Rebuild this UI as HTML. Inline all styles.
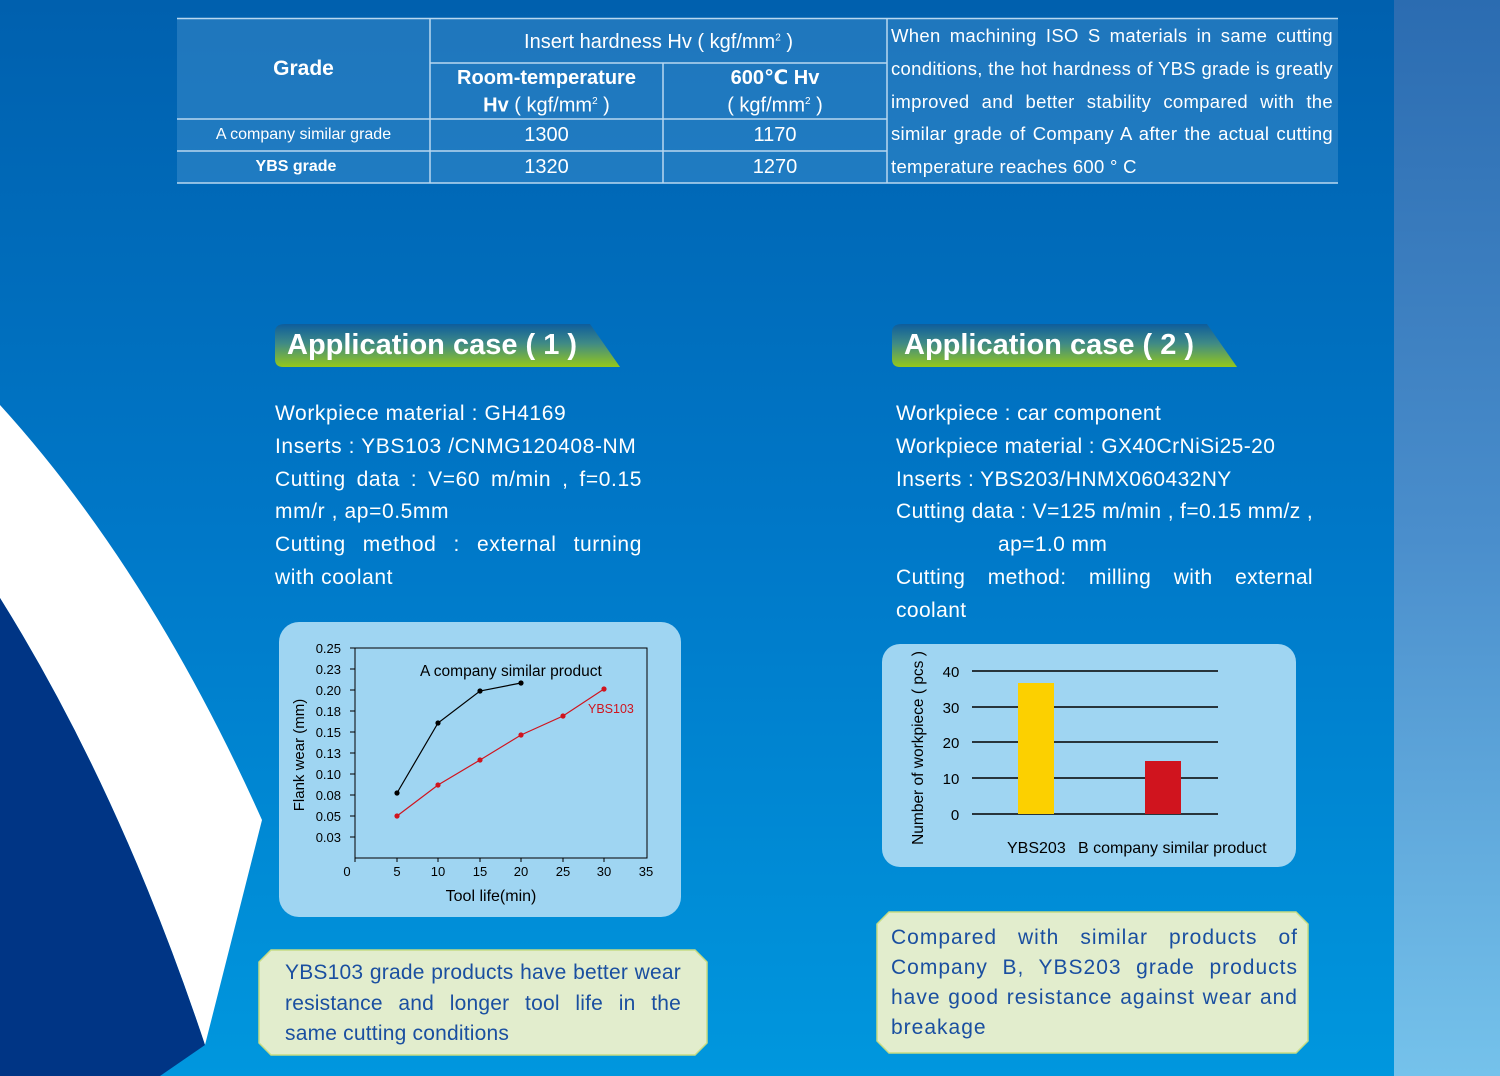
<!DOCTYPE html>
<html><head><meta charset="utf-8"><style>
body{margin:0;width:1500px;height:1076px;overflow:hidden;position:relative;font-family:"Liberation Sans","DejaVu Sans",sans-serif;background:linear-gradient(#0060ae,#0078c8 50%,#0097de);}
.a{position:absolute;white-space:nowrap}
.w{color:#fff}
.j{text-align:justify;text-align-last:justify;white-space:normal}
</style></head><body>
<div class="a" style="left:1394px;top:0;width:106px;height:1076px;background:linear-gradient(#2b6cb1,#4a8ecc 50%,#75c2eb)"></div>
<svg class="a" style="left:0;top:0" width="300" height="1076">
<path d="M0,405 Q150,570 262,820 L205,1045 Q120,790 0,598 Z" fill="#fff"/>
<path d="M0,598 Q120,790 205,1045 L160,1076 L0,1076 Z" fill="#003585"/>
</svg>
<div class="a" style="left:177px;top:18px;width:1161px;height:165px;background:rgba(90,160,215,0.35)"></div>
<svg class="a" style="left:0;top:0" width="1500" height="200">
<g stroke="#b8d8f0" stroke-width="1.5" fill="none">
<line x1="177" y1="18.5" x2="1338" y2="18.5"/><line x1="177" y1="183" x2="1338" y2="183"/>
<line x1="430" y1="63" x2="887" y2="63"/>
<line x1="177" y1="119" x2="887" y2="119"/><line x1="177" y1="151" x2="887" y2="151"/>
<line x1="430" y1="18" x2="430" y2="183"/><line x1="663" y1="63" x2="663" y2="183"/><line x1="887" y1="18" x2="887" y2="183"/>
</g></svg>
<div class="a w" style="left:177px;top:57px;width:253px;text-align:center;font-size:21px;font-weight:bold">Grade</div>
<div class="a w" style="left:430px;top:31px;width:457px;text-align:center;font-size:20px">Insert hardness Hv ( kgf/mm<sup style="font-size:10px">2</sup> )</div>
<div class="a w" style="left:430px;top:66px;width:233px;text-align:center;font-size:20px;line-height:24px"><b>Room-temperature</b><br><b>Hv</b> ( kgf/mm<sup style="font-size:10px">2</sup> )</div>
<div class="a w" style="left:663px;top:66px;width:224px;text-align:center;font-size:20px;line-height:24px"><b>600℃ Hv</b><br>( kgf/mm<sup style="font-size:10px">2</sup> )</div>
<div class="a w" style="left:177px;top:126px;width:253px;text-align:center;font-size:16px">A company similar grade</div>
<div class="a w" style="left:177px;top:158px;width:238px;text-align:center;font-size:16px;font-weight:bold">YBS grade</div>
<div class="a w" style="left:430px;top:124px;width:233px;text-align:center;font-size:20px">1300</div>
<div class="a w" style="left:663px;top:124px;width:224px;text-align:center;font-size:20px">1170</div>
<div class="a w" style="left:430px;top:156px;width:233px;text-align:center;font-size:20px">1320</div>
<div class="a w" style="left:663px;top:156px;width:224px;text-align:center;font-size:20px">1270</div>
<div class="a w" style="left:891px;top:20px;width:442px;font-size:18.5px;line-height:32.8px;letter-spacing:0.3px">
<div class="j">When machining ISO S materials in same cutting</div>
<div class="j">conditions, the hot hardness of YBS grade is greatly</div>
<div class="j">improved and better stability compared with the</div>
<div class="j">similar grade of Company A after the actual cutting</div>
<div>temperature reaches 600 ° C</div></div>
<svg class="a" style="left:0;top:0" width="1500" height="400">
<defs><linearGradient id="g" x1="0" y1="0" x2="0" y2="1"><stop offset="0" stop-color="#0e5d9c"/><stop offset="0.45" stop-color="#3f8a86"/><stop offset="1" stop-color="#95c81a"/></linearGradient></defs>
<path d="M285,324 L590,324 L620,367 L283,367 Q275,367 275,359 L275,332 Q275,324 285,324Z" fill="url(#g)"/>
<path d="M902,324 L1207,324 L1237,367 L900,367 Q892,367 892,359 L892,332 Q892,324 902,324Z" fill="url(#g)"/>
</svg>
<div class="a w" style="left:287px;top:329px;font-size:29px;font-weight:bold">Application case ( 1 )</div>
<div class="a w" style="left:904px;top:329px;font-size:29px;font-weight:bold">Application case ( 2 )</div>
<div class="a w" style="left:275px;top:398px;width:367px;font-size:21px;line-height:32.8px;letter-spacing:0.6px">
<div>Workpiece material : GH4169</div>
<div>Inserts : YBS103 /CNMG120408-NM</div>
<div class="j">Cutting data : V=60 m/min , f=0.15</div>
<div>mm/r , ap=0.5mm</div>
<div class="j">Cutting method : external turning</div>
<div>with coolant</div></div>
<div class="a w" style="left:896px;top:398px;width:417px;font-size:21px;line-height:32.8px;letter-spacing:0.4px">
<div>Workpiece : car component</div>
<div>Workpiece material : GX40CrNiSi25-20</div>
<div>Inserts : YBS203/HNMX060432NY</div>
<div>Cutting data : V=125 m/min , f=0.15 mm/z ,</div>
<div style="padding-left:102px">ap=1.0 mm</div>
<div class="j">Cutting method: milling with external</div>
<div>coolant</div></div>
<div class="a" style="left:279px;top:622px;width:402px;height:295px;background:#9fd5f2;border-radius:20px"></div>
<svg class="a" style="left:0;top:0" width="1500" height="1076" font-family="Liberation Sans, sans-serif">
<rect x="355" y="648" width="292" height="210" fill="none" stroke="#000" stroke-width="1"/>
<g font-size="13" fill="#000" text-anchor="end">
<text x="341" y="653">0.25</text><text x="341" y="674">0.23</text><text x="341" y="695">0.20</text><text x="341" y="716">0.18</text><text x="341" y="737">0.15</text><text x="341" y="758">0.13</text><text x="341" y="779">0.10</text><text x="341" y="800">0.08</text><text x="341" y="821">0.05</text><text x="341" y="842">0.03</text></g>
<g stroke="#000"><line x1="350" y1="648" x2="355" y2="648"/><line x1="350" y1="669" x2="355" y2="669"/><line x1="350" y1="690" x2="355" y2="690"/><line x1="350" y1="711" x2="355" y2="711"/><line x1="350" y1="732" x2="355" y2="732"/><line x1="350" y1="753" x2="355" y2="753"/><line x1="350" y1="774" x2="355" y2="774"/><line x1="350" y1="795" x2="355" y2="795"/><line x1="350" y1="816" x2="355" y2="816"/><line x1="350" y1="837" x2="355" y2="837"/>
<line x1="397" y1="858" x2="397" y2="862"/><line x1="438" y1="858" x2="438" y2="862"/><line x1="480" y1="858" x2="480" y2="862"/><line x1="521" y1="858" x2="521" y2="862"/><line x1="563" y1="858" x2="563" y2="862"/><line x1="604" y1="858" x2="604" y2="862"/><line x1="355" y1="858" x2="355" y2="862"/></g>
<g font-size="13" text-anchor="middle"><text x="347" y="876">0</text><text x="397" y="876">5</text><text x="438" y="876">10</text><text x="480" y="876">15</text><text x="521" y="876">20</text><text x="563" y="876">25</text><text x="604" y="876">30</text><text x="646" y="876">35</text></g>
<text x="491" y="901" font-size="16" text-anchor="middle">Tool life(min)</text>
<text transform="translate(304,755) rotate(-90)" font-size="15" text-anchor="middle">Flank wear (mm)</text>
<text x="420" y="676" font-size="15.5">A company similar product</text>
<text x="588" y="713" font-size="12.5" fill="#d0141e">YBS103</text>
<polyline points="397,793 438,723 480,691 521,683" fill="none" stroke="#000" stroke-width="1.2"/>
<g fill="#000"><circle cx="397" cy="793" r="2.6"/><circle cx="438" cy="723" r="2.6"/><circle cx="480" cy="691" r="2.6"/><circle cx="521" cy="683" r="2.6"/></g>
<polyline points="397,816 438,785 480,760 521,735 563,716 604,689" fill="none" stroke="#d0141e" stroke-width="1.2"/>
<g fill="#d0141e"><circle cx="397" cy="816" r="2.6"/><circle cx="438" cy="785" r="2.6"/><circle cx="480" cy="760" r="2.6"/><circle cx="521" cy="735" r="2.6"/><circle cx="563" cy="716" r="2.6"/><circle cx="604" cy="689" r="2.6"/></g>
<rect x="882" y="644" width="414" height="223" rx="18" fill="#9fd5f2"/>
<g stroke="#000" stroke-width="1.5"><line x1="972" y1="671" x2="1218" y2="671"/><line x1="972" y1="707" x2="1218" y2="707"/><line x1="972" y1="742" x2="1218" y2="742"/><line x1="972" y1="778" x2="1218" y2="778"/><line x1="972" y1="814" x2="1218" y2="814"/></g>
<rect x="1018" y="683" width="36" height="131" fill="#fcd000"/>
<rect x="1145" y="761" width="36" height="53" fill="#d0141e"/>
<g font-size="15" text-anchor="middle"><text x="951" y="677">40</text><text x="951" y="713">30</text><text x="951" y="748">20</text><text x="951" y="784">10</text><text x="955" y="820">0</text></g>
<text transform="translate(923,748) rotate(-90)" font-size="15.5" text-anchor="middle">Number of workpiece ( pcs )</text>
<text x="1007" y="853" font-size="16">YBS203</text>
<text x="1078" y="853" font-size="16">B company similar product</text>
<polygon points="271,950 695,950 707,962 707,1043 695,1055 271,1055 259,1043 259,962" fill="#e2edcd" stroke="#c6dc84" stroke-width="1.5"/>
<polygon points="889,912 1296,912 1308,924 1308,1041 1296,1053 889,1053 877,1041 877,924" fill="#e2edcd" stroke="#c6dc84" stroke-width="1.5"/>
</svg>
<div class="a" style="left:285px;top:958px;width:396px;font-size:21px;line-height:30.5px;color:#1a4fa0;letter-spacing:0.2px">
<div class="j">YBS103 grade products have better wear</div>
<div class="j">resistance and longer tool life in the</div>
<div>same cutting conditions</div></div>
<div class="a" style="left:891px;top:923px;width:407px;font-size:21px;line-height:30px;color:#1a4fa0;letter-spacing:1px">
<div class="j">Compared with similar products of</div>
<div class="j">Company B, YBS203 grade products</div>
<div class="j">have good resistance against wear and</div>
<div>breakage</div></div>
</body></html>
